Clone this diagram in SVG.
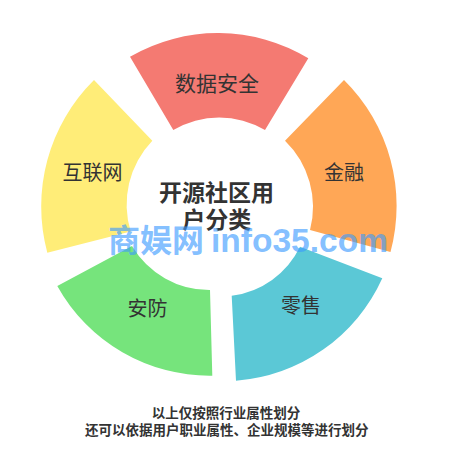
<svg xmlns="http://www.w3.org/2000/svg" width="457" height="461" viewBox="0 0 457 461">
<style>
text{font-family:"Noto Sans CJK SC","Noto Sans",sans-serif;fill:#333;}
.lbl{font-size:20px;text-anchor:middle;}
.title{font-size:23px;font-weight:bold;text-anchor:middle;}
.note{font-size:13.5px;font-weight:bold;text-anchor:middle;}
.wm{font-size:32px;font-weight:bold;fill:#3d9bff;fill-opacity:0.65;}
</style>
<rect width="457" height="461" fill="#ffffff"/>
<g id="sector-data-security">
<path d="M130,56.7 A175,175 0 0 1 308.3,58.3 L265,130 A90,90 0 0 0 173.3,130 Z" fill="#f47a72"/>
<text class="lbl" x="217" y="90.5" style="font-size:21px">数据安全</text>
</g>
<g id="sector-finance">
<path d="M344,80 A177,177 0 0 1 390.5,252 L310,230 A92,92 0 0 0 285,140.7 Z" fill="#ffa756"/>
<text class="lbl" x="344" y="180">金融</text>
</g>
<g id="sector-retail">
<path d="M382.3,278.3 A175,175 0 0 1 236,380.7 L231.7,295.7 A88,88 0 0 0 300,246.7 Z" fill="#5bc8d6"/>
<text class="lbl" x="301" y="312.6">零售</text>
</g>
<g id="sector-security">
<path d="M212.3,375.7 A174,174 0 0 1 57.3,286 L132,246 A90,90 0 0 0 210,290 Z" fill="#76e47c"/>
<text class="lbl" x="147.5" y="315.6">安防</text>
</g>
<g id="sector-internet">
<path d="M47.3,252.7 A178,178 0 0 1 94,80 L152.3,140.7 A92,92 0 0 0 130.7,231.6 Z" fill="#ffed78"/>
<text class="lbl" x="92.5" y="180">互联网</text>
</g>
<g id="center-title">
<text class="title" x="216.5" y="201">开源社区用</text>
<text class="title" x="216.7" y="228.4">户分类</text>
</g>
<g id="notes">
<text class="note" x="226" y="418">以上仅按照行业属性划分</text>
<text class="note" x="226.7" y="435">还可以依据用户职业属性、企业规模等进行划分</text>
</g>
<g id="watermark">
<text class="wm" y="252"><tspan x="108">商娱网</tspan><tspan x="211" textLength="177" lengthAdjust="spacingAndGlyphs" style="font-family:'Liberation Sans',sans-serif;font-size:33px">info35.com</tspan></text>
</g>
</svg>
